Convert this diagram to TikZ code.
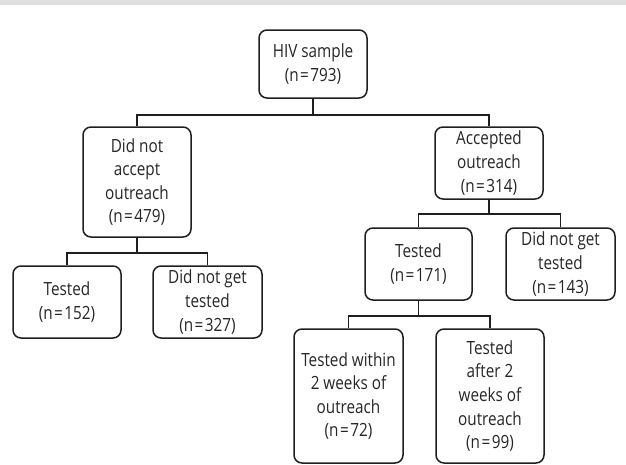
\documentclass[tikz,border=0pt]{standalone}
\usepackage{fontspec}
\setmainfont[FakeStretch=0.84]{Open Sans}
\newcommand{\eqn}[1]{(n\kern1.5pt=\kern1.5pt#1)}
\begin{document}
\begin{tikzpicture}[x=1pt,y=-1pt,
  box/.style={draw=black!88,line width=1.5pt,rounded corners=8pt,align=center,inner sep=0pt,
    font=\fontsize{18.2}{23.6}\selectfont,text=black!85},
  conn/.style={draw=black!88,line width=1.5pt}]
\useasboundingbox (0,0) rectangle (626,464);
\fill[gray!25] (0,0) rectangle (626,5);
\node[box,minimum width=108,minimum height=68] (hiv) at (313,64) {HIV sample\\\eqn{793}};
\node[box,minimum width=108,minimum height=110] (dna) at (137,182) {Did not\\accept\\outreach\\\eqn{479}};
\node[box,minimum width=108,minimum height=72] (acc) at (489,163) {Accepted\\outreach\\\eqn{314}};
\node[box,minimum width=108,minimum height=72] (t152) at (67,302) {Tested\\\eqn{152}};
\node[box,minimum width=109,minimum height=72] (d327) at (207.5,302) {Did not get\\tested\\\eqn{327}};
\node[box,minimum width=107,minimum height=72] (t171) at (418.5,264) {Tested\\\eqn{171}};
\node[box,minimum width=109,minimum height=72] (d143) at (560.5,264) {Did not get\\tested\\\eqn{143}};
\node[box,minimum width=109,minimum height=134] (tw) at (348.5,396) {Tested within\\2 weeks of\\outreach\\\eqn{72}};
\node[box,minimum width=108,minimum height=134] (ta) at (490,396) {Tested\\after 2\\weeks of\\outreach\\\eqn{99}};
\coordinate (b1) at (313,115);
\coordinate (b2) at (137,253);
\coordinate (b3) at (489,214);
\coordinate (b4) at (418.5,316);
\draw[conn] (hiv.south) -- (b1);
\draw[conn] (b1) -| (dna.north);
\draw[conn] (b1) -| (acc.north);
\draw[conn] (dna.south) -- (b2);
\draw[conn] (b2) -| (t152.north);
\draw[conn] (b2) -| (d327.north);
\draw[conn] (acc.south) -- (b3);
\draw[conn] (b3) -| (t171.north);
\draw[conn] (b3) -| (d143.north);
\draw[conn] (t171.south) -- (b4);
\draw[conn] (b4) -| (tw.north);
\draw[conn] (b4) -| (ta.north);
\end{tikzpicture}
\end{document}
